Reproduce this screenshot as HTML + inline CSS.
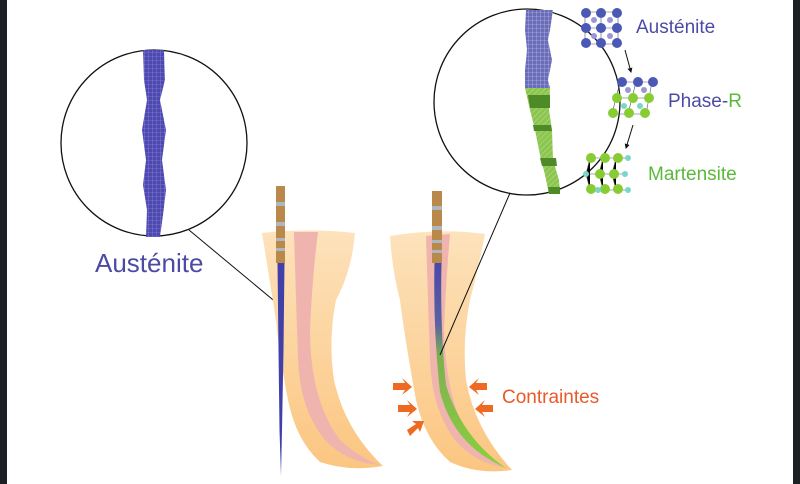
<!DOCTYPE html>
<html><head><meta charset="utf-8"><style>
html,body{margin:0;padding:0;background:#fff}
svg{display:block}
text{font-family:"Liberation Sans",sans-serif}
</style></head><body>
<svg width="800" height="484" viewBox="0 0 800 484" xmlns="http://www.w3.org/2000/svg">
<defs>
<pattern id="grid" width="4" height="4" patternUnits="userSpaceOnUse"><rect width="4" height="4" fill="#4d49b0"/><path d="M0 0H4M0 0V4" stroke="#9a98e0" stroke-width="0.6"/></pattern>
<pattern id="grid2" width="4" height="4" patternUnits="userSpaceOnUse"><rect width="4" height="4" fill="#6a6cb8"/><path d="M0 0H4M0 0V4" stroke="#c8d0f0" stroke-width="0.6"/></pattern>
<pattern id="hatch" width="4" height="4" patternUnits="userSpaceOnUse" patternTransform="rotate(45)"><rect width="4" height="4" fill="#8cc650"/><path d="M0 0V4" stroke="#b8e090" stroke-width="1"/></pattern>
<linearGradient id="tooth" x1="0" y1="0" x2="0" y2="1"><stop offset="0" stop-color="#fde2bb"/><stop offset="1" stop-color="#fbc681"/></linearGradient>
<linearGradient id="rfile" gradientUnits="userSpaceOnUse" x1="0" y1="262" x2="0" y2="470"><stop offset="0" stop-color="#4a48a8"/><stop offset="0.3" stop-color="#5a62a0"/><stop offset="0.45" stop-color="#7cb050"/><stop offset="1" stop-color="#8cd040"/></linearGradient>
<marker id="ah" viewBox="0 0 10 10" refX="8" refY="5" markerWidth="5" markerHeight="5" orient="auto"><path d="M0 0L10 5L0 10z" fill="#111"/></marker>
</defs>
<rect x="0" y="0" width="7" height="484" fill="#1c1f24"/>
<rect x="793" y="0" width="7" height="484" fill="#1c1f24"/>

<!-- left zoom circle -->
<circle cx="154" cy="143" r="93" fill="#fff" stroke="#111" stroke-width="1.3"/>
<path d="M143 50 L164 50 L165 80 L160 100 L166 130 L162 160 L166 190 L163 215 L160 237 L146 237 L147 210 L143 185 L146 160 L142 130 L147 100 L144 80 Z" fill="url(#grid)"/>
<text x="95" y="272" font-size="26" fill="#4d4aa6">Austénite</text>
<line x1="189" y1="230" x2="278" y2="304" stroke="#111" stroke-width="1"/>

<!-- left tooth -->
<path d="M262 233 Q310 228 355 233 Q352 270 336 300 Q328 340 334 380 Q345 430 383 466 Q350 472 320 462 Q296 440 288 400 Q280 360 276 320 Q268 270 262 233 Z" fill="url(#tooth)"/>
<path d="M294 232 L318 232 Q312 280 310 330 Q310 400 340 440 Q360 458 380 465 Q345 462 325 440 Q300 410 298 360 Q296 300 294 232 Z" fill="#f0b4ae"/>
<!-- left file -->
<path d="M277.5 262 L284.5 262 L283.5 350 L282 430 L281 476 L279.5 430 L278.5 350 Z" fill="#4040a8"/>
<rect x="276" y="186" width="9" height="77" fill="#b8894a"/>
<g fill="#b0b6c0"><rect x="276" y="202" width="9" height="4"/><rect x="276" y="222" width="9" height="4"/><rect x="276" y="238" width="9" height="3"/><rect x="276" y="248" width="9" height="3"/></g>

<!-- right tooth -->
<path d="M390 236 Q440 228 485 234 Q478 270 470 300 Q462 340 466 380 Q475 430 512 470 Q478 475 450 462 Q425 440 416 400 Q405 340 400 300 Q392 270 390 236 Z" fill="url(#tooth)"/>
<path d="M426 236 L450 234 Q446 280 444 330 Q446 400 470 440 Q490 462 508 468 Q475 464 455 440 Q432 410 430 360 Q428 300 426 236 Z" fill="#f0b4ae"/>
<path d="M434.5 262 L441.5 262 Q440 330 446 385 Q462 438 506 468 Q454 446 440 392 Q433 330 434.5 262 Z" fill="url(#rfile)"/>
<rect x="432" y="191" width="10" height="72" fill="#b8894a"/>
<g fill="#b0b6c0"><rect x="432" y="206" width="10" height="4"/><rect x="432" y="226" width="10" height="4"/><rect x="432" y="240" width="10" height="3"/><rect x="432" y="250" width="10" height="3"/></g>

<!-- right zoom circle -->
<circle cx="527" cy="102" r="93" fill="#fff" stroke="#111" stroke-width="1.3"/>
<path d="M526 10 L553 10 L550 30 L548 40 L552 60 L548 80 L550 88 L525 88 L525 70 L527 50 L525 30 Z" fill="url(#grid2)"/>
<path d="M525 88 L550 88 L549 110 L552 130 L553 160 L559 180 L560 194 L549 194 L545 175 L540 155 L535 130 L530 110 Z" fill="url(#hatch)"/>
<g fill="#4e8a28"><path d="M528 95 L550 95 L550 108 L530 108 Z"/><path d="M533 125 L551 125 L552 131 L534 131 Z"/><path d="M540 158 L556 158 L557 166 L542 166 Z"/><path d="M548 187 L560 187 L560 194 L549 194 Z"/></g>
<line x1="510" y1="193" x2="440" y2="355" stroke="#111" stroke-width="1"/>

<!-- atoms: austenite -->
<g stroke="#555" stroke-width="0.6"><path d="M585 12H618M585 28H618M585 44H618M585 12V44M601 12V44M618 12V44"/></g>
<g fill="#4b58b5"><circle cx="586" cy="13" r="5"/><circle cx="601" cy="13" r="5"/><circle cx="617" cy="13" r="5"/><circle cx="586" cy="28" r="5"/><circle cx="601" cy="28" r="5"/><circle cx="617" cy="28" r="5"/><circle cx="586" cy="43" r="5"/><circle cx="601" cy="43" r="5"/><circle cx="617" cy="43" r="5"/></g>
<g fill="#9a96d8"><circle cx="594" cy="20" r="3"/><circle cx="610" cy="20" r="3"/><circle cx="594" cy="36" r="3"/><circle cx="610" cy="36" r="3"/></g>
<text x="636" y="33" font-size="19" fill="#4d4aa6">Austénite</text>
<line x1="625" y1="50" x2="631" y2="72" stroke="#111" stroke-width="1" marker-end="url(#ah)"/>
<!-- phase R -->
<g stroke="#555" stroke-width="0.6"><path d="M620 82H652M614 98H648M612 114H646M620 82L612 114M636 82L628 114M652 82L646 114"/></g>
<g fill="#4b58b5"><circle cx="622" cy="82" r="5"/><circle cx="638" cy="82" r="5"/><circle cx="653" cy="82" r="5"/></g>
<g fill="#88cc33"><circle cx="617" cy="98" r="5"/><circle cx="633" cy="98" r="5"/><circle cx="649" cy="98" r="5"/><circle cx="613" cy="113" r="5"/><circle cx="629" cy="113" r="5"/><circle cx="645" cy="113" r="5"/></g>
<g fill="#9a96d8"><circle cx="628" cy="90" r="3"/><circle cx="644" cy="90" r="3"/></g>
<g fill="#7ad6c8"><circle cx="624" cy="106" r="3"/><circle cx="640" cy="106" r="3"/></g>
<text x="668" y="107" font-size="19" fill="#4d4aa6">Phase-<tspan fill="#5cb83a">R</tspan></text>
<line x1="633" y1="125" x2="626" y2="148" stroke="#111" stroke-width="1" marker-end="url(#ah)"/>
<!-- martensite -->
<g stroke="#555" stroke-width="0.6"><path d="M590 158L630 158M586 174L626 174M590 190L630 190M590 158L586 174L590 190M603 158L599 174L603 190M616 158L612 174L616 190"/></g>
<g fill="#88cc33"><circle cx="591" cy="158" r="5"/><circle cx="605" cy="158" r="5"/><circle cx="618" cy="158" r="5"/><circle cx="600" cy="174" r="5"/><circle cx="614" cy="174" r="5"/><circle cx="591" cy="189" r="5"/><circle cx="605" cy="189" r="5"/><circle cx="618" cy="189" r="5"/></g>
<g fill="#7ad6c8"><circle cx="628" cy="158" r="3"/><circle cx="586" cy="174" r="3"/><circle cx="625" cy="174" r="3"/><circle cx="598" cy="190" r="3"/><circle cx="628" cy="190" r="3"/></g>
<text x="648" y="180" font-size="19" fill="#5cb83a">Martensite</text>

<!-- contraintes -->
<g fill="#ee6a22">
<path d="M393 383 L405 383 L402 378 L412 387 L402 395 L405 390 L393 390 Z"/>
<path d="M398 405 L410 405 L407 400 L417 409 L407 417 L410 412 L398 412 Z"/>
<path d="M407 430 L416 424 L412 421 L424 421 L420 432 L418 428 L410 436 Z"/>
<path d="M487 383 L476 383 L479 378 L469 387 L479 395 L476 390 L487 390 Z"/>
<path d="M493 405 L482 405 L485 400 L475 409 L485 417 L482 412 L493 412 Z"/>
</g>
<text x="502" y="403" font-size="19" fill="#ea5a28">Contraintes</text>
</svg>
</body></html>
